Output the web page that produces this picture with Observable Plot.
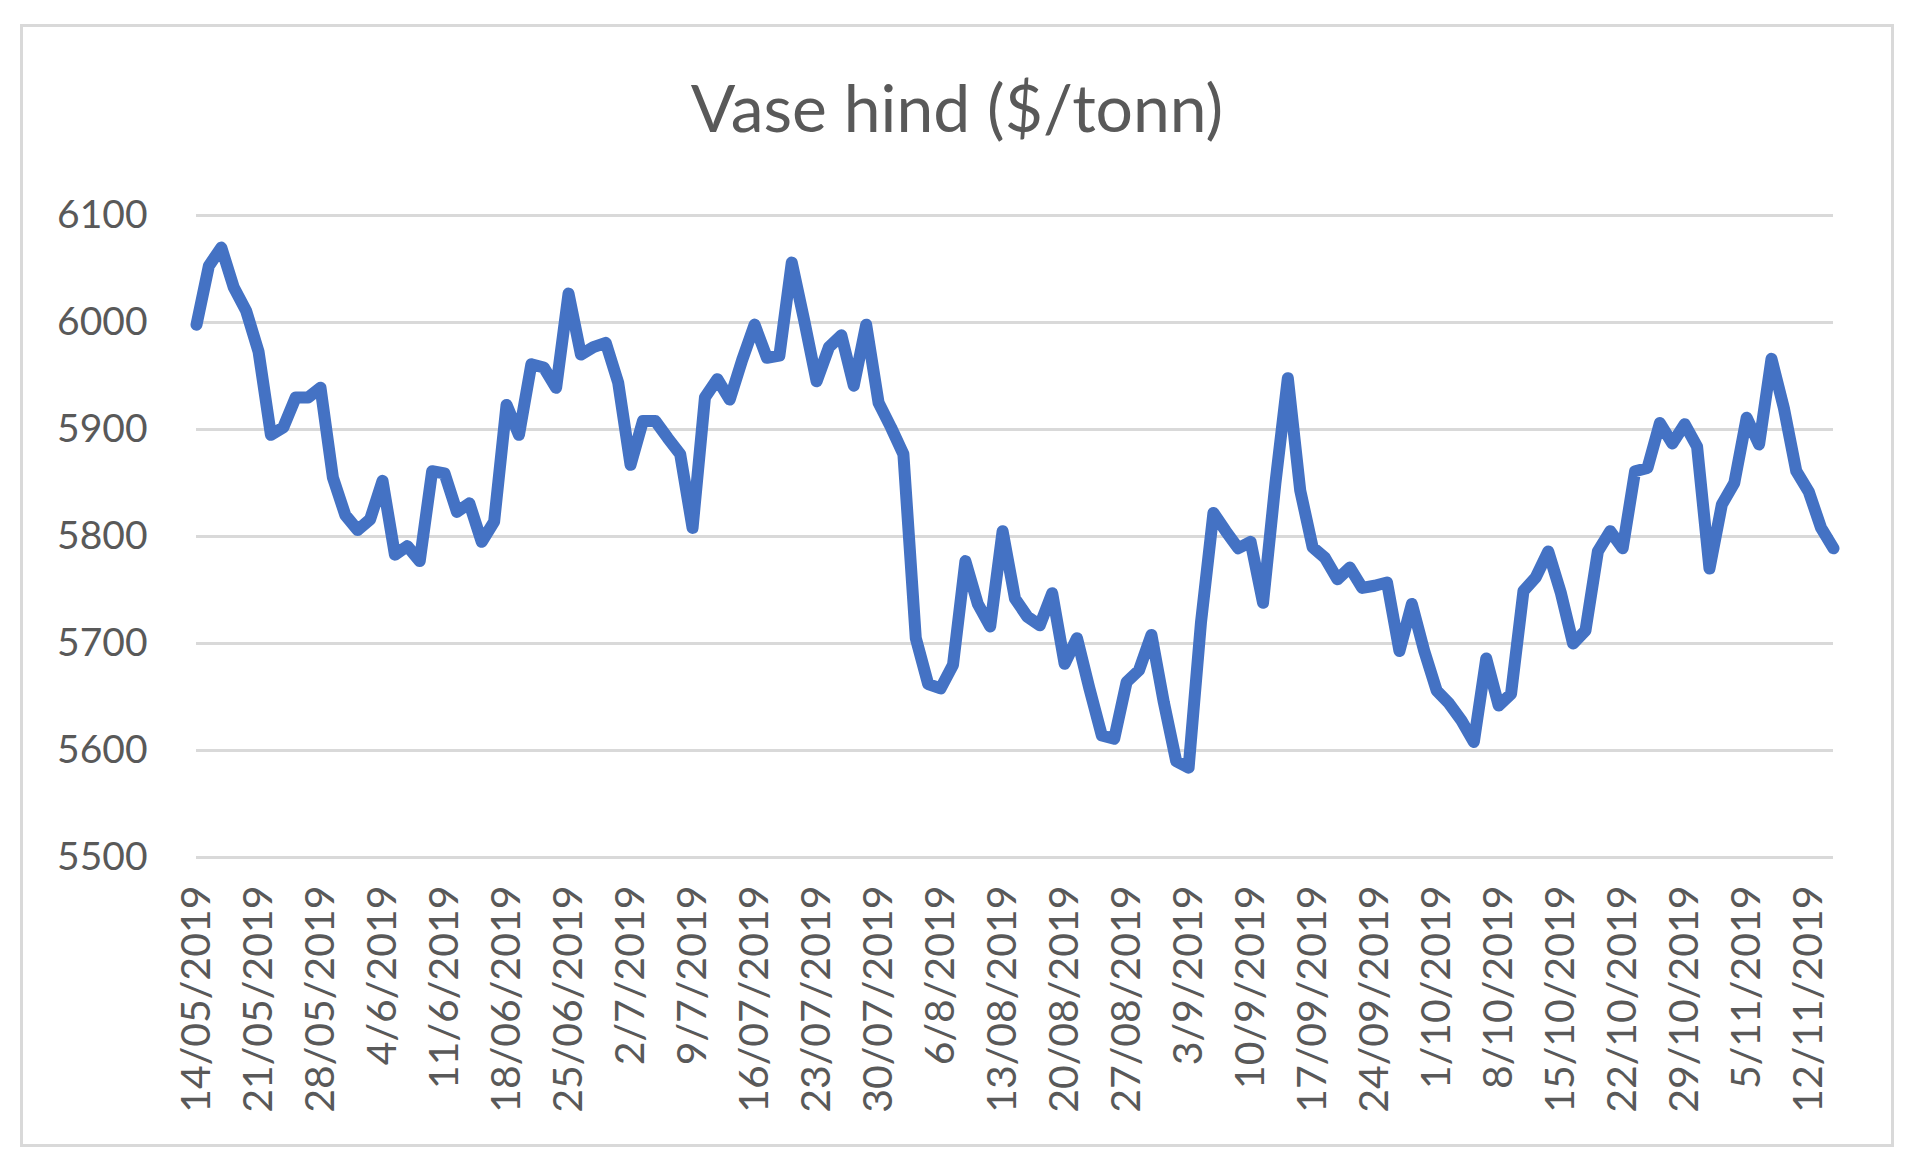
<!DOCTYPE html>
<html>
<head>
<meta charset="utf-8">
<script src="https://cdn.jsdelivr.net/npm/d3@7"></script>
<script src="https://cdn.jsdelivr.net/npm/@observablehq/plot@0.6"></script>
<style>
  html, body { margin: 0; padding: 0; background: #ffffff; }
  #frame { position: absolute; left: 20px; top: 24px; width: 1868px; height: 1117px; border: 3px solid #d9d9d9; }
  #title { position: absolute; left: 0; width: 1914px; top: 74px; text-align: center;
           font-family: Lato, "Open Sans", sans-serif; font-size: 66px; line-height: 66px; color: #595959; }
  #chart { position: absolute; left: 0; top: 160px; }
</style>
</head>
<body>
<div id="frame"></div>
<div id="title">Vase hind ($/tonn)</div>
<div id="chart"></div>
<script>
// Category tick labels (every 5th trading day)
const tickLabels = [
  "14/05/2019", "21/05/2019", "28/05/2019", "4/6/2019", "11/6/2019", "18/06/2019",
  "25/06/2019", "2/7/2019", "9/7/2019", "16/07/2019", "23/07/2019", "30/07/2019",
  "6/8/2019", "13/08/2019", "20/08/2019", "27/08/2019", "3/9/2019", "10/9/2019",
  "17/09/2019", "24/09/2019", "1/10/2019", "8/10/2019", "15/10/2019", "22/10/2019",
  "29/10/2019", "5/11/2019", "12/11/2019"
];

// Daily price ($/tonn)
const prices = [
  5998, 6053, 6070, 6033, 6011, 5973, 5895, 5902, 5930, 5930,
  5939, 5855, 5820, 5806, 5816, 5852, 5783, 5791, 5777, 5861,
  5859, 5823, 5831, 5795, 5814, 5923, 5895, 5961, 5958, 5939,
  6027, 5970, 5977, 5981, 5944, 5867, 5908, 5908, 5892, 5877,
  5808, 5930, 5947, 5928, 5965, 5998, 5967, 5969, 6056, 6002,
  5945, 5977, 5988, 5941, 5998, 5925, 5902, 5877, 5705, 5662,
  5658, 5680, 5777, 5737, 5716, 5805, 5742, 5725, 5717, 5747,
  5681, 5705, 5658, 5614, 5611, 5664, 5675, 5708, 5645, 5590,
  5584, 5720, 5822, 5805, 5789, 5795, 5738, 5850, 5948, 5843,
  5790, 5780, 5760, 5771, 5752, 5754, 5757, 5693, 5737, 5693,
  5656, 5644, 5628, 5608, 5686, 5642, 5653, 5749, 5762, 5786,
  5748, 5700, 5712, 5786, 5805, 5789, 5861, 5864, 5906, 5887,
  5905, 5884, 5770, 5830, 5850, 5911, 5886, 5966, 5920, 5861,
  5842, 5808, 5789
];

const yTicks = [5500, 5600, 5700, 5800, 5900, 6000, 6100];
const labelStep = 5;

const data = prices.map((v, i) => ({day: i, price: v}));
const tickIndex = tickLabels.map((_, k) => k * labelStep);

const chart = Plot.plot({
  width: 1920,
  height: 980,
  marginLeft: 196,
  marginRight: 87,
  marginTop: 55,
  marginBottom: 283,
  style: {fontFamily: "Lato, 'Open Sans', sans-serif", fontSize: "39px", color: "#595959", background: "transparent"},
  x: {domain: [0, prices.length - 1]},
  y: {domain: [5500, 6100]},
  marks: [
    Plot.ruleY(yTicks, {stroke: "#d9d9d9", strokeWidth: 3}),
    Plot.axisY({ticks: yTicks, tickSize: 0, tickPadding: 49, tickFormat: d => String(d), label: null, fontSize: 39}),
    Plot.axisX({ticks: tickIndex, tickSize: 0, tickPadding: 28, tickRotate: -90,
                tickFormat: i => tickLabels[Math.round(i / labelStep)], label: null, fontSize: 41}),
    Plot.line(data, {x: "day", y: "price", stroke: "#4472C4", strokeWidth: 12,
                     strokeLinejoin: "round", strokeLinecap: "round"})
  ]
});
document.getElementById("chart").appendChild(chart);
</script>
</body>
</html>
